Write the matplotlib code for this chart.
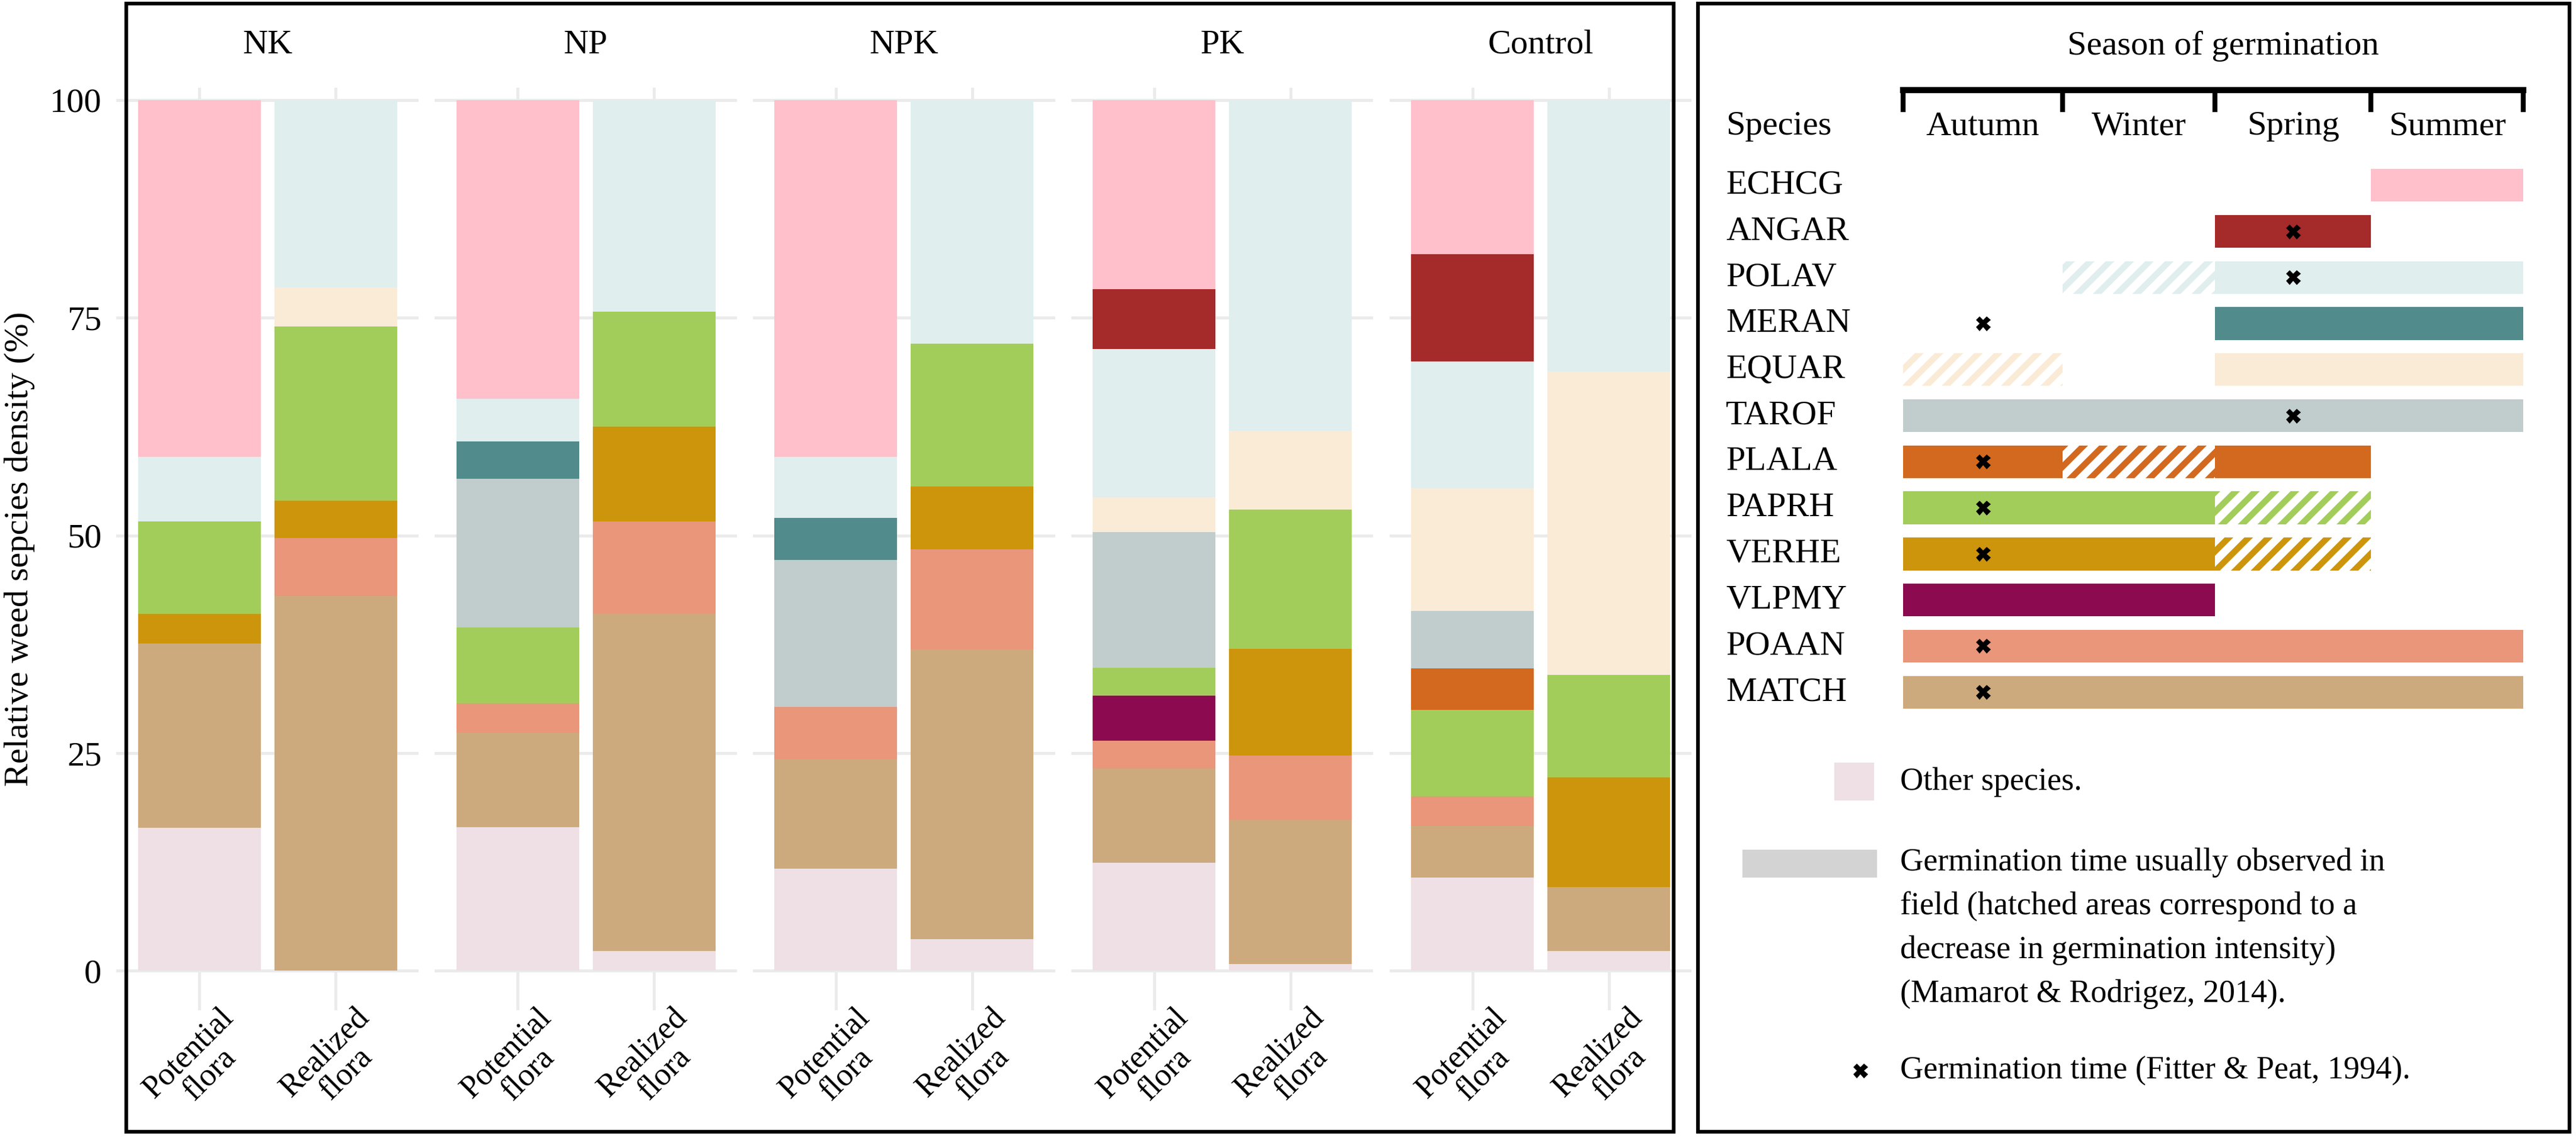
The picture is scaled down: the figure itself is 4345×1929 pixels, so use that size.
import matplotlib.pyplot as plt
from matplotlib.patches import Rectangle

plt.rcParams['font.family'] = ['Liberation Serif', 'DejaVu Serif']
plt.rcParams['hatch.linewidth'] = 2.5

# bars: NK-P, NK-R, NP-P, NP-R, NPK-P, NPK-R, PK-P, PK-R, Control-P, Control-R
treatments = ["NK", "NP", "NPK", "PK", "Control"]
flora = ["Potential\nflora", "Realized\nflora"]

species = ["Other", "MATCH", "POAAN", "VLPMY", "VERHE", "PAPRH", "PLALA",
           "TAROF", "EQUAR", "MERAN", "POLAV", "ANGAR", "ECHCG"]
colors = {"Other": "#EEE0E5", "MATCH": "#CDAA7D", "POAAN": "#E9967A",
          "VLPMY": "#8B0A50", "VERHE": "#CD950C", "PAPRH": "#A2CD5A",
          "PLALA": "#D2691E", "TAROF": "#C1CDCD", "EQUAR": "#FAEBD7",
          "MERAN": "#528B8B", "POLAV": "#E0EEEE", "ANGAR": "#A52A2A",
          "ECHCG": "#FFC0CB"}

density = {
    "Other": [16.4, 0, 16.5, 2.3, 11.7, 3.6, 12.4, 0.8, 10.7, 2.3],
    "MATCH": [21.2, 43.0, 10.8, 38.7, 12.6, 33.3, 10.8, 16.5, 5.9, 7.3],
    "POAAN": [0, 6.7, 3.4, 10.6, 6.0, 11.5, 3.2, 7.4, 3.4, 0],
    "VLPMY": [0, 0, 0, 0, 0, 0, 5.2, 0, 0, 0],
    "VERHE": [3.4, 4.3, 0, 10.9, 0, 7.2, 0, 12.3, 0, 12.6],
    "PAPRH": [10.6, 20.0, 8.7, 13.2, 0, 16.4, 3.2, 16.0, 10.0, 11.8],
    "PLALA": [0, 0, 0, 0, 0, 0, 0, 0, 4.7, 0],
    "TAROF": [0, 0, 17.1, 0, 16.9, 0, 15.6, 0, 6.6, 0],
    "EQUAR": [0, 4.5, 0, 0, 0, 0, 4.0, 9.0, 14.1, 34.8],
    "MERAN": [0, 0, 4.3, 0, 4.8, 0, 0, 0, 0, 0],
    "POLAV": [7.4, 21.5, 4.9, 24.3, 7.0, 28.0, 17.0, 38.0, 14.6, 31.2],
    "ANGAR": [0, 0, 0, 0, 0, 0, 6.9, 0, 12.3, 0],
    "ECHCG": [41.0, 0, 34.3, 0, 41.0, 0, 21.7, 0, 17.7, 0],
}

# season table: solid seasons, hatched seasons, season index of the x marker
seasons = ["Autumn", "Winter", "Spring", "Summer"]
table_species = ["ECHCG", "ANGAR", "POLAV", "MERAN", "EQUAR", "TAROF",
                 "PLALA", "PAPRH", "VERHE", "VLPMY", "POAAN", "MATCH"]
solid = [[3], [2], [2, 3], [2, 3], [2, 3], [0, 1, 2, 3],
         [0, 2], [0, 1], [0, 1], [0, 1], [0, 1, 2, 3], [0, 1, 2, 3]]
hatched = [[], [], [1], [], [0], [], [1], [2], [2], [], [], []]
marker = [None, 2, 2, 0, None, 2, 0, 0, 0, None, 0, 0]

W, H = 1570.0, 697.0
fig = plt.figure(figsize=(4345 / 300, 1929 / 300), dpi=300)


def fr(x, y):
    return x / W, 1 - y / H


# ---- left panel: stacked bars ----
ylo, yhi = -4.5, 101.4
ax_top = 61 - (yhi - 100) * 5.31
ax_bot = 592 - ylo * 5.31
for i, t in enumerate(treatments):
    left = 71 + i * 194
    x0, y0 = fr(left, ax_bot)
    ax = fig.add_axes([x0, y0, 184 / W, (ax_bot - ax_top) / H])
    ax.set_xlim(-0.607, 1.607)
    ax.set_ylim(ylo, yhi)
    for y in [0, 25, 50, 75, 100]:
        ax.axhline(y, color="#EBEBEB", lw=1.2, zorder=0)
    for x in [0, 1]:
        ax.axvline(x, color="#EBEBEB", lw=1.2, zorder=0)
    for j in range(2):
        bottom = 0
        for sp in species:
            v = density[sp][2 * i + j]
            if v > 0:
                ax.bar(j, v, bottom=bottom, width=0.9, color=colors[sp],
                       zorder=2)
            bottom += v
    for s in ax.spines.values():
        s.set_visible(False)
    ax.set_xticks([0, 1])
    ax.set_xticklabels(flora, rotation=45, fontsize=13, linespacing=1.0)
    ax.tick_params(length=0, pad=-3)
    ax.set_yticks([0, 25, 50, 75, 100])
    if i == 0:
        ax.set_yticklabels(["0", "25", "50", "75", "100"], fontsize=14)
        ax.tick_params(axis="y", pad=6)
        ax.set_ylabel("Relative weed sepcies density (%)", fontsize=14,
                      labelpad=6)
    else:
        ax.set_yticklabels([])
    ax.set_title(t, fontsize=14, pad=14)

# ---- frames and season table ----
ov = fig.add_axes([0, 0, 1, 1])
ov.set_xlim(0, W)
ov.set_ylim(H, 0)
ov.axis("off")
ov.add_patch(Rectangle((77, 2), 943, 688, fill=False, lw=1.5, ec="black"))
ov.add_patch(Rectangle((1035, 2), 531, 688, fill=False, lw=1.5, ec="black"))

edges = [1160, 1257, 1350, 1445, 1538]
ov.text(1355, 28, "Season of germination", fontsize=14, ha="center",
        va="center")
ov.plot([edges[0], edges[-1]], [55, 55], color="black", lw=2.5)
for e in edges:
    ov.plot([e, e], [55, 67], color="black", lw=2)
ov.text(1052, 77, "Species", fontsize=14, va="center")
for k, s in enumerate(seasons):
    ov.text((edges[k] + edges[k + 1]) / 2, 77, s, fontsize=14,
            ha="center", va="center")

for r, sp in enumerate(table_species):
    yc = 113 + r * 28.1
    ov.text(1052, yc, sp, fontsize=14, va="center")
    for k in solid[r]:
        ov.add_patch(Rectangle((edges[k], yc - 10), edges[k + 1] - edges[k],
                               20, fc=colors[sp], lw=0))
    for k in hatched[r]:
        ov.add_patch(Rectangle((edges[k], yc - 10), edges[k + 1] - edges[k],
                               20, fc="white", ec=colors[sp], hatch="///",
                               lw=0))
    if marker[r] is not None:
        k = marker[r]
        ov.plot((edges[k] + edges[k + 1]) / 2, yc, marker="X", ms=6,
                color="black", mew=0)

# ---- key ----
ov.add_patch(Rectangle((1118, 465), 24, 23, fc=colors["Other"], lw=0))
ov.text(1158, 477, "Other species.", fontsize=13, va="center")
ov.add_patch(Rectangle((1062, 518), 82, 17, fc="#D3D3D3", lw=0))
lines = ["Germination time usually observed in",
         "field (hatched areas correspond to a",
         "decrease in germination intensity)",
         "(Mamarot & Rodrigez, 2014)."]
for n, line in enumerate(lines):
    ov.text(1158, 526 + n * 26.7, line, fontsize=13, va="center")
ov.plot(1134, 653, marker="X", ms=6, color="black", mew=0)
ov.text(1158, 653, "Germination time (Fitter & Peat, 1994).", fontsize=13,
        va="center")

fig.savefig("out.png", dpi=300)
